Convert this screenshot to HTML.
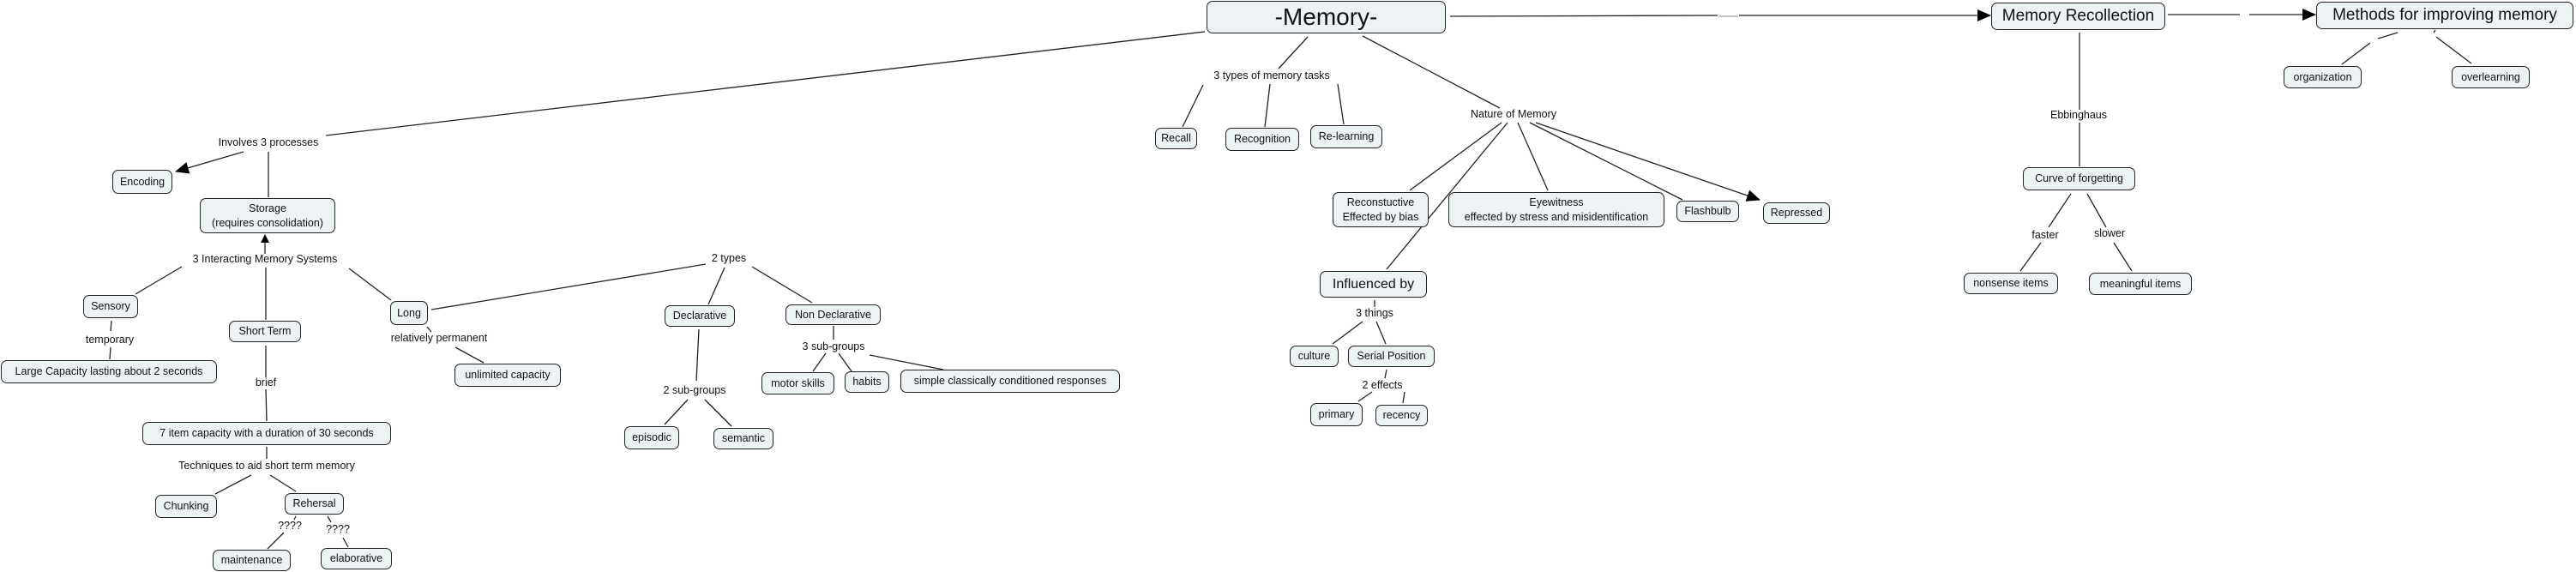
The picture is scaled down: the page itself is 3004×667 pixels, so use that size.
<!DOCTYPE html>
<html><head><meta charset="utf-8"><style>
html,body{margin:0;padding:0;background:#fff;}
#c{position:relative;width:3004px;height:667px;overflow:hidden;font-family:"Liberation Sans",sans-serif;color:#111;}
.n{position:absolute;box-sizing:border-box;border:1.5px solid #222;border-radius:7px;background:#edf3f5;display:flex;align-items:center;justify-content:center;text-align:center;font-size:12.5px;line-height:1.35;white-space:nowrap;}
.l{position:absolute;font-size:12.5px;white-space:nowrap;transform:translate(-50%,-50%);}
svg{position:absolute;left:0;top:0;}
</style></head><body><div id="c">
<svg width="3004" height="667" viewBox="0 0 3004 667">
<defs><marker id="a" markerWidth="10" markerHeight="10" refX="9" refY="5" orient="auto" markerUnits="userSpaceOnUse"><path d="M0,0 L10,5 L0,10 z" fill="#000"/></marker>
<marker id="b" markerWidth="16" markerHeight="14" refX="15" refY="7" orient="auto" markerUnits="userSpaceOnUse"><path d="M0,0 L16,7 L0,14 z" fill="#000"/></marker></defs>
<g stroke="#222" stroke-width="1.3" fill="none">
<line x1="1405" y1="37" x2="380" y2="158"/>
<line x1="284" y1="177" x2="205" y2="200" marker-end="url(#b)"/>
<line x1="313" y1="177" x2="313" y2="230"/>
<line x1="309" y1="296" x2="309" y2="274" marker-end="url(#a)"/>
<line x1="212" y1="311" x2="158" y2="343"/>
<line x1="130" y1="374" x2="129" y2="386"/>
<line x1="129" y1="405" x2="128" y2="419"/>
<line x1="310" y1="312" x2="310" y2="373"/>
<line x1="310" y1="403" x2="310" y2="440"/>
<line x1="310" y1="454" x2="311" y2="491"/>
<line x1="311" y1="521" x2="311" y2="535"/>
<line x1="293" y1="554" x2="251" y2="576"/>
<line x1="315" y1="554" x2="345" y2="573"/>
<line x1="345" y1="602" x2="343" y2="606"/>
<line x1="331" y1="621" x2="312" y2="640"/>
<line x1="382" y1="602" x2="386" y2="609"/>
<line x1="400" y1="627" x2="406" y2="638"/>
<line x1="407" y1="313" x2="456" y2="350"/>
<line x1="503" y1="361" x2="823" y2="308"/>
<line x1="498" y1="381" x2="503" y2="387"/>
<line x1="531" y1="405" x2="564" y2="423"/>
<line x1="845" y1="312" x2="826" y2="355"/>
<line x1="877" y1="311" x2="947" y2="353"/>
<line x1="815" y1="384" x2="812" y2="444"/>
<line x1="802" y1="466" x2="775" y2="495"/>
<line x1="822" y1="466" x2="853" y2="497"/>
<line x1="972" y1="380" x2="972" y2="396"/>
<line x1="963" y1="412" x2="948" y2="433"/>
<line x1="978" y1="412" x2="993" y2="433"/>
<line x1="1014" y1="414" x2="1100" y2="431"/>
<line x1="1525" y1="43" x2="1491" y2="80"/>
<line x1="1403" y1="99" x2="1379" y2="148"/>
<line x1="1481" y1="98" x2="1475" y2="148"/>
<line x1="1560" y1="98" x2="1567" y2="145"/>
<line x1="1589" y1="42" x2="1749" y2="126"/>
<line x1="1751" y1="143" x2="1644" y2="222"/>
<line x1="1758" y1="143" x2="1617" y2="314"/>
<line x1="1770" y1="143" x2="1805" y2="222"/>
<line x1="1784" y1="143" x2="1962" y2="233"/>
<line x1="1791" y1="143" x2="2052" y2="233" marker-end="url(#b)"/>
<line x1="1603" y1="350" x2="1603" y2="358"/>
<line x1="1589" y1="375" x2="1554" y2="401"/>
<line x1="1605" y1="375" x2="1616" y2="401"/>
<line x1="1617" y1="431" x2="1615" y2="441"/>
<line x1="1600" y1="457" x2="1584" y2="468"/>
<line x1="1638" y1="457" x2="1636" y2="470"/>
<line x1="1691" y1="19" x2="2003" y2="18"/>
<line x1="2028" y1="18" x2="2321" y2="18" marker-end="url(#b)"/>
<line x1="2528" y1="17" x2="2612" y2="17"/>
<line x1="2623" y1="17" x2="2700" y2="17" marker-end="url(#b)"/>
<line x1="2796" y1="38" x2="2773" y2="45"/>
<line x1="2764" y1="50" x2="2731" y2="75"/>
<line x1="2840" y1="35" x2="2838" y2="38"/>
<line x1="2841" y1="43" x2="2882" y2="74"/>
<line x1="2425" y1="38" x2="2425" y2="128"/>
<line x1="2425" y1="143" x2="2425" y2="194"/>
<line x1="2415" y1="226" x2="2389" y2="265"/>
<line x1="2380" y1="283" x2="2356" y2="316"/>
<line x1="2434" y1="226" x2="2456" y2="265"/>
<line x1="2465" y1="283" x2="2486" y2="316"/>
</g>
<line x1="2004" y1="19" x2="2027" y2="19" stroke="#888" stroke-width="1"/>
</svg>

<div class="n" style="left:1407px;top:1px;width:279px;height:38px;font-size:28px;">-Memory-</div>
<div class="n" style="left:2322px;top:3px;width:203px;height:32px;font-size:19px;">Memory Recollection</div>
<div class="n" style="left:2701px;top:2px;width:300px;height:32px;font-size:19px;">Methods for improving memory</div>
<div class="n" style="left:131px;top:198px;width:70px;height:28px;">Encoding</div>
<div class="n" style="left:233px;top:231px;width:158px;height:41px;">Storage<br>(requires consolidation)</div>
<div class="n" style="left:97px;top:344px;width:64px;height:27px;">Sensory</div>
<div class="n" style="left:1px;top:420px;width:252px;height:27px;">Large Capacity lasting about 2 seconds</div>
<div class="n" style="left:267px;top:374px;width:84px;height:25px;">Short Term</div>
<div class="n" style="left:166px;top:492px;width:290px;height:27px;">7 item capacity with a duration of 30 seconds</div>
<div class="n" style="left:181px;top:577px;width:72px;height:27px;">Chunking</div>
<div class="n" style="left:332px;top:575px;width:69px;height:25px;">Rehersal</div>
<div class="n" style="left:248px;top:641px;width:91px;height:25px;">maintenance</div>
<div class="n" style="left:374px;top:639px;width:83px;height:25px;">elaborative</div>
<div class="n" style="left:455px;top:351px;width:44px;height:28px;">Long</div>
<div class="n" style="left:530px;top:424px;width:124px;height:27px;">unlimited capacity</div>
<div class="n" style="left:775px;top:356px;width:82px;height:25px;">Declarative</div>
<div class="n" style="left:916px;top:355px;width:111px;height:24px;">Non Declarative</div>
<div class="n" style="left:728px;top:497px;width:64px;height:27px;">episodic</div>
<div class="n" style="left:832px;top:499px;width:70px;height:25px;">semantic</div>
<div class="n" style="left:888px;top:434px;width:85px;height:26px;">motor skills</div>
<div class="n" style="left:985px;top:433px;width:52px;height:25px;">habits</div>
<div class="n" style="left:1050px;top:431px;width:256px;height:27px;">simple classically conditioned responses</div>
<div class="n" style="left:1347px;top:149px;width:49px;height:25px;">Recall</div>
<div class="n" style="left:1429px;top:149px;width:86px;height:27px;">Recognition</div>
<div class="n" style="left:1528px;top:146px;width:84px;height:27px;">Re-learning</div>
<div class="n" style="left:1554px;top:224px;width:112px;height:41px;">Reconstuctive<br>Effected by bias</div>
<div class="n" style="left:1689px;top:224px;width:252px;height:41px;">Eyewitness<br>effected by stress and misidentification</div>
<div class="n" style="left:1955px;top:234px;width:73px;height:25px;">Flashbulb</div>
<div class="n" style="left:2056px;top:236px;width:78px;height:25px;">Repressed</div>
<div class="n" style="left:1539px;top:316px;width:125px;height:31px;font-size:16px;">Influenced by</div>
<div class="n" style="left:1504px;top:403px;width:57px;height:25px;">culture</div>
<div class="n" style="left:1572px;top:403px;width:101px;height:25px;">Serial Position</div>
<div class="n" style="left:1528px;top:470px;width:61px;height:27px;">primary</div>
<div class="n" style="left:1604px;top:472px;width:61px;height:25px;">recency</div>
<div class="n" style="left:2663px;top:77px;width:91px;height:26px;">organization</div>
<div class="n" style="left:2859px;top:77px;width:91px;height:26px;">overlearning</div>
<div class="n" style="left:2359px;top:195px;width:131px;height:27px;">Curve of forgetting</div>
<div class="n" style="left:2290px;top:318px;width:110px;height:25px;">nonsense items</div>
<div class="n" style="left:2436px;top:318px;width:120px;height:26px;">meaningful items</div>

<div class="l" style="left:313px;top:166px;">Involves 3 processes</div>
<div class="l" style="left:309px;top:302px;">3 Interacting Memory Systems</div>
<div class="l" style="left:128px;top:396px;">temporary</div>
<div class="l" style="left:310px;top:446px;">brief</div>
<div class="l" style="left:311px;top:543px;">Techniques to aid short term memory</div>
<div class="l" style="left:338px;top:613px;">????</div>
<div class="l" style="left:394px;top:617px;">????</div>
<div class="l" style="left:850px;top:301px;">2 types</div>
<div class="l" style="left:512px;top:394px;">relatively permanent</div>
<div class="l" style="left:810px;top:455px;">2 sub-groups</div>
<div class="l" style="left:972px;top:404px;">3 sub-groups</div>
<div class="l" style="left:1483px;top:88px;">3 types of memory tasks</div>
<div class="l" style="left:1765px;top:133px;">Nature of Memory</div>
<div class="l" style="left:1603px;top:365px;">3 things</div>
<div class="l" style="left:1612px;top:449px;">2 effects</div>
<div class="l" style="left:2424px;top:134px;">Ebbinghaus</div>
<div class="l" style="left:2385px;top:274px;">faster</div>
<div class="l" style="left:2460px;top:272px;">slower</div>
</div></body></html>
